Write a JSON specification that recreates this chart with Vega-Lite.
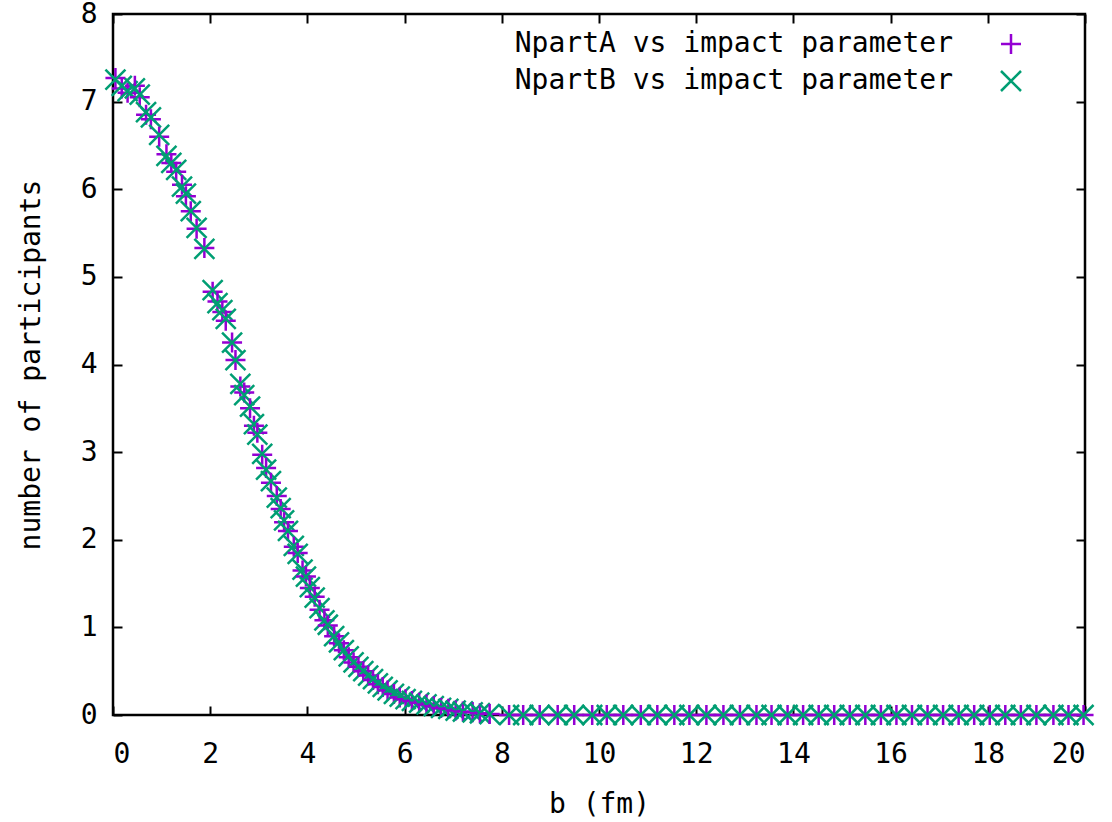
{
  "$schema": "https://vega.github.io/schema/vega-lite/v6.json",
  "width": 972,
  "height": 701,
  "autosize": "none",
  "padding": {"left": 113, "top": 14, "right": 27, "bottom": 107},
  "background": "white",
  "config": {
    "view": {"stroke": "black", "strokeWidth": 2.5},
    "font": "DejaVu Sans Mono",
    "axis": {"labelColor": "black", "titleColor": "black", "tickColor": "black", "tickWidth": 2, "grid": false, "domain": false, "labelFont": "DejaVu Sans Mono", "titleFont": "DejaVu Sans Mono", "labelFontSize": 28, "titleFontSize": 28, "titleFontWeight": "normal"}
  },
  "data": {
    "values": [
      {"b": 0.05, "NpartA": 7.27, "NpartB": 7.25},
      {"b": 0.18, "NpartA": 7.15, "NpartB": 7.18},
      {"b": 0.3, "NpartA": 7.1, "NpartB": 7.12},
      {"b": 0.45, "NpartA": 7.18, "NpartB": 7.15},
      {"b": 0.55, "NpartA": 7.05, "NpartB": 7.08},
      {"b": 0.68, "NpartA": 6.85, "NpartB": 6.88},
      {"b": 0.78, "NpartA": 6.8, "NpartB": 6.82},
      {"b": 0.95, "NpartA": 6.6, "NpartB": 6.62},
      {"b": 1.1, "NpartA": 6.4, "NpartB": 6.38},
      {"b": 1.2, "NpartA": 6.3, "NpartB": 6.3},
      {"b": 1.3, "NpartA": 6.2, "NpartB": 6.22},
      {"b": 1.42, "NpartA": 6.05, "NpartB": 6.03},
      {"b": 1.5, "NpartA": 5.92, "NpartB": 5.95},
      {"b": 1.6, "NpartA": 5.75, "NpartB": 5.75},
      {"b": 1.72, "NpartA": 5.55, "NpartB": 5.56},
      {"b": 1.88, "NpartA": 5.33, "NpartB": 5.32},
      {"b": 2.05, "NpartA": 4.83, "NpartB": 4.85},
      {"b": 2.15, "NpartA": 4.72, "NpartB": 4.7},
      {"b": 2.25, "NpartA": 4.6, "NpartB": 4.62},
      {"b": 2.32, "NpartA": 4.5, "NpartB": 4.52},
      {"b": 2.45, "NpartA": 4.25, "NpartB": 4.25},
      {"b": 2.52, "NpartA": 4.05, "NpartB": 4.05},
      {"b": 2.62, "NpartA": 3.75, "NpartB": 3.78},
      {"b": 2.7, "NpartA": 3.68, "NpartB": 3.65},
      {"b": 2.82, "NpartA": 3.5, "NpartB": 3.52},
      {"b": 2.9, "NpartA": 3.3, "NpartB": 3.32},
      {"b": 2.97, "NpartA": 3.22, "NpartB": 3.2},
      {"b": 3.07, "NpartA": 2.97, "NpartB": 2.98},
      {"b": 3.15, "NpartA": 2.82, "NpartB": 2.8},
      {"b": 3.25, "NpartA": 2.65, "NpartB": 2.67},
      {"b": 3.37, "NpartA": 2.5, "NpartB": 2.48},
      {"b": 3.45, "NpartA": 2.35, "NpartB": 2.36},
      {"b": 3.52, "NpartA": 2.2, "NpartB": 2.22},
      {"b": 3.6, "NpartA": 2.1, "NpartB": 2.1},
      {"b": 3.72, "NpartA": 1.92, "NpartB": 1.93},
      {"b": 3.8, "NpartA": 1.85, "NpartB": 1.84},
      {"b": 3.9, "NpartA": 1.65, "NpartB": 1.66},
      {"b": 3.97, "NpartA": 1.58, "NpartB": 1.58},
      {"b": 4.05, "NpartA": 1.45, "NpartB": 1.46},
      {"b": 4.15, "NpartA": 1.35, "NpartB": 1.34},
      {"b": 4.25, "NpartA": 1.2, "NpartB": 1.22},
      {"b": 4.35, "NpartA": 1.08, "NpartB": 1.08},
      {"b": 4.42, "NpartA": 1.02, "NpartB": 1.03},
      {"b": 4.55, "NpartA": 0.9, "NpartB": 0.9},
      {"b": 4.65, "NpartA": 0.82, "NpartB": 0.83},
      {"b": 4.75, "NpartA": 0.74, "NpartB": 0.74},
      {"b": 4.85, "NpartA": 0.66, "NpartB": 0.67},
      {"b": 4.95, "NpartA": 0.6, "NpartB": 0.6},
      {"b": 5.05, "NpartA": 0.55, "NpartB": 0.55},
      {"b": 5.15, "NpartA": 0.5, "NpartB": 0.5},
      {"b": 5.25, "NpartA": 0.45, "NpartB": 0.45},
      {"b": 5.35, "NpartA": 0.4, "NpartB": 0.41},
      {"b": 5.45, "NpartA": 0.35, "NpartB": 0.36},
      {"b": 5.55, "NpartA": 0.32, "NpartB": 0.32},
      {"b": 5.65, "NpartA": 0.28, "NpartB": 0.28},
      {"b": 5.78, "NpartA": 0.24, "NpartB": 0.24},
      {"b": 5.9, "NpartA": 0.2, "NpartB": 0.21},
      {"b": 6.02, "NpartA": 0.18, "NpartB": 0.18},
      {"b": 6.15, "NpartA": 0.16, "NpartB": 0.16},
      {"b": 6.3, "NpartA": 0.14, "NpartB": 0.14},
      {"b": 6.45, "NpartA": 0.12, "NpartB": 0.12},
      {"b": 6.6, "NpartA": 0.1, "NpartB": 0.1},
      {"b": 6.75, "NpartA": 0.08, "NpartB": 0.08},
      {"b": 6.9, "NpartA": 0.07, "NpartB": 0.07},
      {"b": 7.05, "NpartA": 0.05, "NpartB": 0.05},
      {"b": 7.2, "NpartA": 0.04, "NpartB": 0.04},
      {"b": 7.4, "NpartA": 0.03, "NpartB": 0.03},
      {"b": 7.55, "NpartA": 0.02, "NpartB": 0.02},
      {"b": 7.75, "NpartA": 0.01, "NpartB": 0.01},
      {"b": 8.15, "NpartA": 0, "NpartB": 0},
      {"b": 8.44, "NpartA": 0, "NpartB": 0},
      {"b": 8.78, "NpartA": 0, "NpartB": 0},
      {"b": 9.15, "NpartA": 0, "NpartB": 0},
      {"b": 9.49, "NpartA": 0, "NpartB": 0},
      {"b": 9.86, "NpartA": 0, "NpartB": 0},
      {"b": 10.16, "NpartA": 0, "NpartB": 0},
      {"b": 10.5, "NpartA": 0, "NpartB": 0},
      {"b": 10.86, "NpartA": 0, "NpartB": 0},
      {"b": 11.2, "NpartA": 0, "NpartB": 0},
      {"b": 11.55, "NpartA": 0, "NpartB": 0},
      {"b": 11.86, "NpartA": 0, "NpartB": 0},
      {"b": 12.21, "NpartA": 0, "NpartB": 0},
      {"b": 12.56, "NpartA": 0, "NpartB": 0},
      {"b": 12.9, "NpartA": 0, "NpartB": 0},
      {"b": 13.24, "NpartA": 0, "NpartB": 0},
      {"b": 13.55, "NpartA": 0, "NpartB": 0},
      {"b": 13.88, "NpartA": 0, "NpartB": 0},
      {"b": 14.2, "NpartA": 0, "NpartB": 0},
      {"b": 14.52, "NpartA": 0, "NpartB": 0},
      {"b": 14.84, "NpartA": 0, "NpartB": 0},
      {"b": 15.16, "NpartA": 0, "NpartB": 0},
      {"b": 15.48, "NpartA": 0, "NpartB": 0},
      {"b": 15.8, "NpartA": 0, "NpartB": 0},
      {"b": 16.12, "NpartA": 0, "NpartB": 0},
      {"b": 16.44, "NpartA": 0, "NpartB": 0},
      {"b": 16.76, "NpartA": 0, "NpartB": 0},
      {"b": 17.08, "NpartA": 0, "NpartB": 0},
      {"b": 17.4, "NpartA": 0, "NpartB": 0},
      {"b": 17.72, "NpartA": 0, "NpartB": 0},
      {"b": 18.04, "NpartA": 0, "NpartB": 0},
      {"b": 18.36, "NpartA": 0, "NpartB": 0},
      {"b": 18.68, "NpartA": 0, "NpartB": 0},
      {"b": 19.0, "NpartA": 0, "NpartB": 0},
      {"b": 19.35, "NpartA": 0, "NpartB": 0},
      {"b": 19.66, "NpartA": 0, "NpartB": 0},
      {"b": 19.97, "NpartA": 0, "NpartB": 0}
    ]
  },
  "transform": [{"fold": ["NpartA", "NpartB"], "as": ["series", "n"]}],
  "layer": [
    {
      "mark": {"type": "point", "filled": false, "strokeWidth": 2.5, "size": 400, "opacity": 1},
      "encoding": {
        "x": {"field": "b", "type": "quantitative", "scale": {"domain": [0, 20], "nice": false, "zero": false},
          "axis": {"orient": "bottom", "values": [0, 2, 4, 6, 8, 10, 12, 14, 16, 18, 20], "tickSize": -9, "labelPadding": 34, "title": "b (fm)", "titlePadding": 22}},
        "y": {"field": "n", "type": "quantitative", "scale": {"domain": [0, 8], "nice": false},
          "axis": {"orient": "left", "values": [0, 1, 2, 3, 4, 5, 6, 7, 8], "tickSize": -9, "labelPadding": 25, "title": "number of participants", "titlePadding": 35}},
        "color": {"field": "series", "type": "nominal",
          "scale": {"domain": ["NpartA", "NpartB"], "range": ["#9400d3", "#009e73"]},
          "legend": {"orient": "none", "legendX": 884, "legendY": 16, "title": null, "labelAlign": "right", "labelOffset": -72, "labelLimit": 0, "labelFontSize": 28, "labelFont": "DejaVu Sans Mono", "labelColor": "black", "symbolSize": 400, "symbolStrokeWidth": 2.5, "rowPadding": 7, "padding": 0,
            "labelExpr": "datum.label + ' vs impact parameter'"}},
        "shape": {"field": "series", "type": "nominal",
          "scale": {"domain": ["NpartA", "NpartB"], "range": ["M-1,0L1,0M0,-1L0,1", "M-1,-1L1,1M-1,1L1,-1"]},
          "legend": {"orient": "none", "legendX": 884, "legendY": 16, "title": null, "labelAlign": "right", "labelOffset": -72, "labelLimit": 0, "labelFontSize": 28, "labelFont": "DejaVu Sans Mono", "labelColor": "black", "symbolSize": 400, "symbolStrokeWidth": 2.5, "rowPadding": 7, "padding": 0,
            "labelExpr": "datum.label + ' vs impact parameter'"}}
      }
    },
    {
      "mark": {"type": "point", "opacity": 0},
      "encoding": {
        "x": {"field": "b", "type": "quantitative", "axis": {"orient": "top", "values": [0, 2, 4, 6, 8, 10, 12, 14, 16, 18, 20], "tickSize": -9, "labels": false, "title": null}},
        "y": {"field": "n", "type": "quantitative", "axis": {"orient": "right", "values": [0, 1, 2, 3, 4, 5, 6, 7, 8], "tickSize": -9, "labels": false, "title": null}}
      }
    }
  ],
  "resolve": {"axis": {"x": "independent", "y": "independent"}}
}
